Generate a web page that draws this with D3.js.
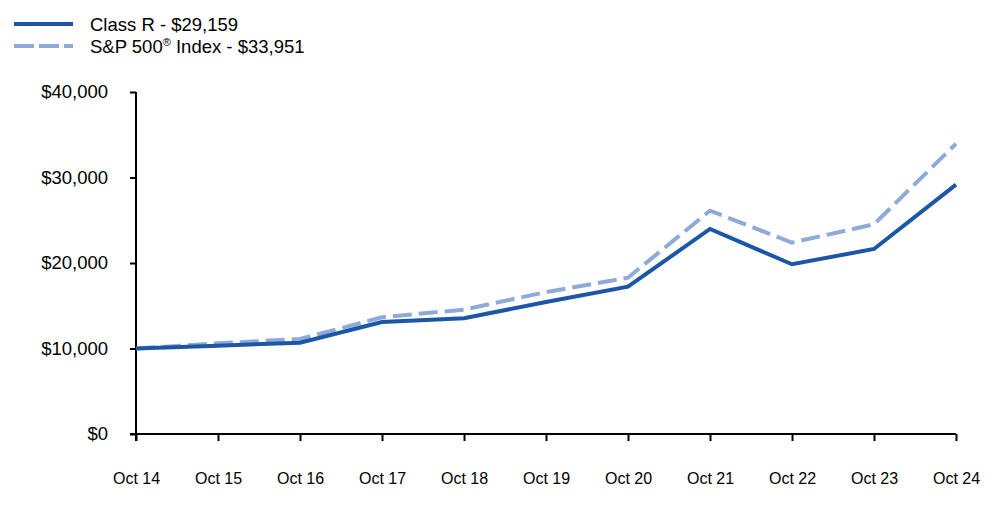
<!DOCTYPE html>
<html><head><meta charset="utf-8">
<script src="https://cdn.jsdelivr.net/npm/d3@7"></script>
<style>body{margin:0;background:#fff}svg{display:block;font-family:"Liberation Sans",Arial,sans-serif}</style>
</head><body>
<svg id="c" width="1000" height="523"></svg>
<script>
const categories = ["Oct 14","Oct 15","Oct 16","Oct 17","Oct 18","Oct 19","Oct 20","Oct 21","Oct 22","Oct 23","Oct 24"];
const classR = [10000,10330,10680,13100,13530,15440,17230,23980,19850,21640,29159];
const sp500 = [10000,10600,11110,13650,14550,16600,18280,26120,22380,24530,33951];
const yTicks = [0,10000,20000,30000,40000];
const seriesNames = ["Class R - $29,159","S&P 500® Index - $33,951"];

const svg = d3.select("#c");
const x = d3.scalePoint().domain(categories).range([136,956]);
const y = d3.scaleLinear().domain([0,40000]).range([434,92]);

const yAxis = svg.append("g").attr("transform","translate(136,0)")
  .call(d3.axisLeft(y).tickValues(yTicks).tickSize(6).tickPadding(22).tickFormat(d=>"$"+d3.format(",")(d)));
yAxis.selectAll("text").attr("font-size",18.5).attr("fill","#000").attr("font-family","Liberation Sans, Arial, sans-serif");
const xAxis = svg.append("g").attr("transform","translate(0,434)")
  .call(d3.axisBottom(x).tickSize(7).tickPadding(32));
xAxis.selectAll("text").attr("font-size",16).attr("fill","#000").attr("font-family","Liberation Sans, Arial, sans-serif");
svg.selectAll(".domain").attr("stroke","#000").attr("stroke-width",2);
svg.selectAll(".tick line").attr("stroke","#000").attr("stroke-width",2);
xAxis.select(".domain").attr("d","M130,0H956");
yAxis.select(".domain").attr("d","M0,92V441");

const line = d3.line().x((d,i)=>x(categories[i])).y(d=>y(d));
svg.append("path").datum(sp500).attr("d",line).attr("fill","none")
  .attr("stroke","#8eaad8").attr("stroke-width",4).attr("stroke-dasharray","19,7");
svg.append("path").datum(classR).attr("d",line).attr("fill","none")
  .attr("stroke","#1b57a6").attr("stroke-width",4);

// legend
const lg = svg.append("g");
lg.append("line").attr("x1",14).attr("x2",73).attr("y1",24).attr("y2",24).attr("stroke","#1b57a6").attr("stroke-width",4);
lg.append("line").attr("x1",14).attr("x2",73).attr("y1",46).attr("y2",46).attr("stroke","#8eaad8").attr("stroke-width",4).attr("stroke-dasharray","20,5");
lg.append("text").attr("x",90).attr("y",31).attr("font-size",18.5).text(seriesNames[0]);
const t2 = lg.append("text").attr("x",90).attr("y",53).attr("font-size",18.5);
t2.append("tspan").text("S&P 500");
t2.append("tspan").attr("font-size",11).attr("dy",-7).text("®");
t2.append("tspan").attr("dy",7).text(" Index - $33,951");
</script>
</body></html>
